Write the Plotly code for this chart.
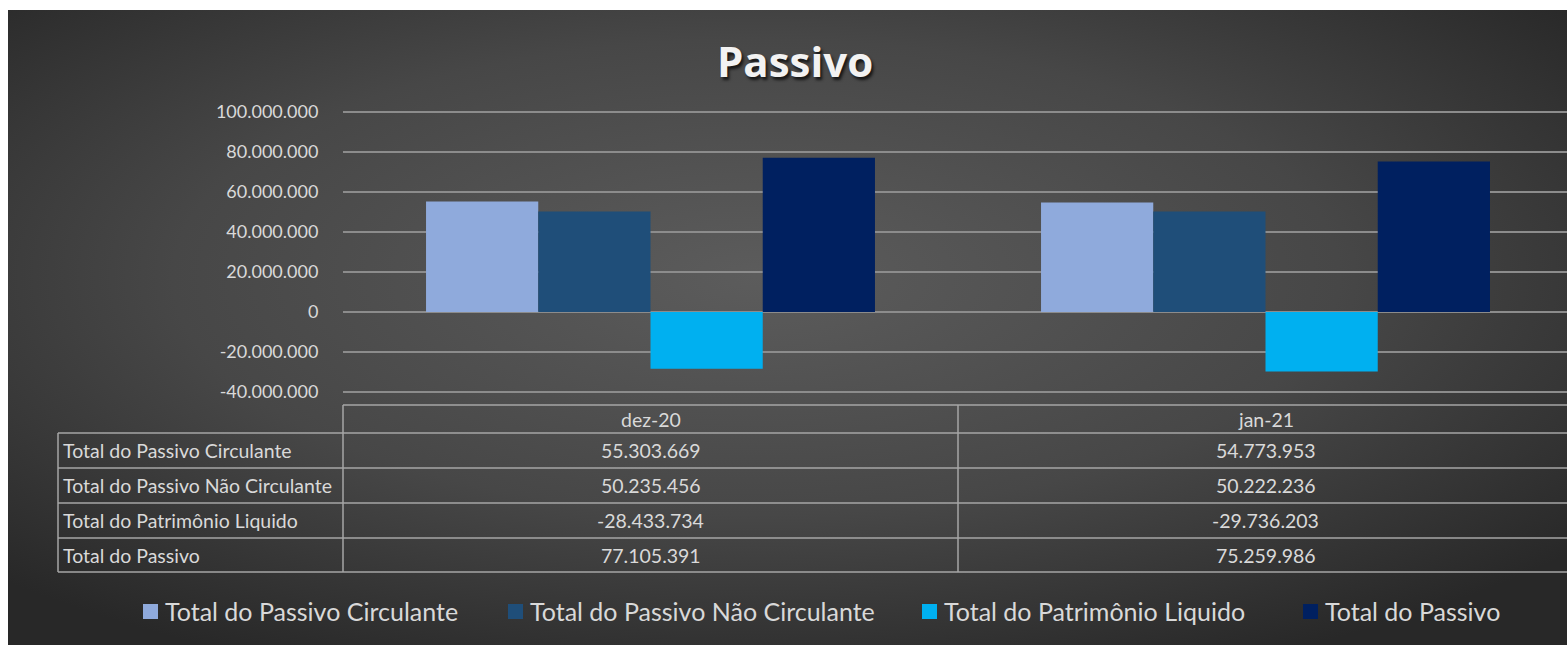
import base64
import plotly.graph_objects as go

# ---------------- data ----------------
categories = ["dez-20", "jan-21"]
series_names = [
    "Total do Passivo Circulante",
    "Total do Passivo Não Circulante",
    "Total do Patrimônio Liquido",
    "Total do Passivo",
]
passivo_circulante = [55303669, 54773953]
passivo_nao_circulante = [50235456, 50222236]
patrimonio_liquido = [-28433734, -29736203]
total_passivo = [77105391, 75259986]
series_colors = ["#8FAADC", "#1F4E79", "#00B0F0", "#002060"]
y_tick_values = [-40000000, -20000000, 0, 20000000, 40000000, 60000000, 80000000, 100000000]
chart_title = "Passivo"

series_values = [passivo_circulante, passivo_nao_circulante, patrimonio_liquido, total_passivo]


def fmt(v):
    return f"{v:,}".replace(",", ".")


# ---------------- geometry helpers ----------------
W, H = 1567, 645
L, R, T, B = 343, 0, 110, 251
PW = W - L - R
PH = H - T - B


def px(x):
    return (x - L) / PW


def py(y):
    return (H - B - y) / PH


FONT = "Lato"
TXT = "#D9D9D9"
LINE = "#A6A6A6"

fig = go.Figure()
xpos = list(range(len(categories)))
for name, vals, col in zip(series_names, series_values, series_colors):
    fig.add_trace(go.Bar(x=xpos, y=vals, name=name, marker=dict(color=col, line=dict(width=0)),
                         showlegend=False, hoverinfo="skip"))

# background gradient as svg image
svg = '''<svg xmlns="http://www.w3.org/2000/svg" width="1559" height="635" viewBox="0 0 1559 635" preserveAspectRatio="none">
<defs><radialGradient id="g" cx="48%" cy="42%" r="68%">
<stop offset="0%" stop-color="#5C5C5C"/><stop offset="55%" stop-color="#474747"/><stop offset="100%" stop-color="#282828"/>
</radialGradient></defs><rect width="1559" height="635" fill="url(#g)"/></svg>'''
src = "data:image/svg+xml;base64," + base64.b64encode(svg.encode()).decode()

shapes = []
annotations = []


def hline(x0, x1, y):
    shapes.append(dict(type="line", xref="paper", yref="paper", x0=px(x0), x1=px(x1), y0=py(y), y1=py(y),
                       line=dict(color=LINE, width=1.5), layer="above"))


def vline(x, y0, y1):
    shapes.append(dict(type="line", xref="paper", yref="paper", x0=px(x), x1=px(x), y0=py(y0), y1=py(y1),
                       line=dict(color=LINE, width=1.5), layer="above"))


# data table
hline(343, W, 405)
for yy in [433, 468, 503, 538, 572]:
    hline(58, W, yy)
vline(58, 433, 572)
vline(343, 405, 572)
vline(958, 405, 572)

TS = 19.5
row_centers = [450, 485, 520, 555]
for i, c in enumerate(categories):
    annotations.append(dict(x=i, xref="x", y=py(419), yref="paper", text=c, showarrow=False,
                            font=dict(family=FONT, size=TS, color=TXT), xanchor="center", yanchor="middle"))
for r, (name, vals) in enumerate(zip(series_names, series_values)):
    annotations.append(dict(x=px(61), xref="paper", y=py(row_centers[r]), yref="paper", text=name,
                            showarrow=False, font=dict(family=FONT, size=TS, color=TXT),
                            xanchor="left", yanchor="middle"))
    for i, v in enumerate(vals):
        annotations.append(dict(x=i, xref="x", y=py(row_centers[r]), yref="paper", text=fmt(v),
                                showarrow=False, font=dict(family=FONT, size=TS, color=TXT),
                                xanchor="center", yanchor="middle"))

# legend
leg_sq = [143, 508, 922, 1303]
for x0, name, col in zip(leg_sq, series_names, series_colors):
    shapes.append(dict(type="rect", xref="paper", yref="paper", x0=px(x0), x1=px(x0 + 15),
                       y0=py(619), y1=py(604), fillcolor=col, line=dict(width=0), layer="above"))
    annotations.append(dict(x=px(x0 + 20), xref="paper", y=py(611), yref="paper", text=name,
                            showarrow=False, font=dict(family=FONT, size=25, color=TXT),
                            xanchor="left", yanchor="middle"))

# title
annotations.append(dict(x=px(795), xref="paper", y=py(61), yref="paper", text=f"<b>{chart_title}</b>",
                        showarrow=False,
                        font=dict(family="Open Sans", size=42, color="#F2F2F2",
                                  shadow="2px 3px 3px rgba(0,0,0,0.7)"),
                        xanchor="center", yanchor="middle"))

fig.update_layout(
    width=W, height=H,
    margin=dict(l=L, r=R, t=T, b=B, pad=0),
    paper_bgcolor="white",
    plot_bgcolor="rgba(0,0,0,0)",
    barmode="group", bargap=0.27, bargroupgap=0,
    showlegend=False,
    hovermode=False,
    shapes=shapes, annotations=annotations,
    images=[dict(source=src, xref="paper", yref="paper", x=px(8), y=py(10),
                 sizex=(W - 8) / PW, sizey=(H - 10) / PH, sizing="stretch",
                 xanchor="left", yanchor="top", layer="below")],
    xaxis=dict(range=[-0.5, -0.5 + PW / 615], showgrid=False, zeroline=False, showticklabels=False,
               showline=False, fixedrange=True),
    yaxis=dict(range=[-41000000, 101000000], tickvals=y_tick_values,
               ticktext=[fmt(v) for v in y_tick_values],
               showgrid=True, gridcolor="#8C8C8C", gridwidth=1.8,
               zeroline=True, zerolinecolor="#8C8C8C", zerolinewidth=1.8,
               showline=False, ticks="outside", ticklen=20, tickcolor="rgba(0,0,0,0)",
               tickfont=dict(family=FONT, size=18, color=TXT), fixedrange=True),
)

fig.write_html("out.html", config={"displayModeBar": False, "staticPlot": True},
               post_script="document.body.style.margin='0';document.body.style.overflow='hidden';")
